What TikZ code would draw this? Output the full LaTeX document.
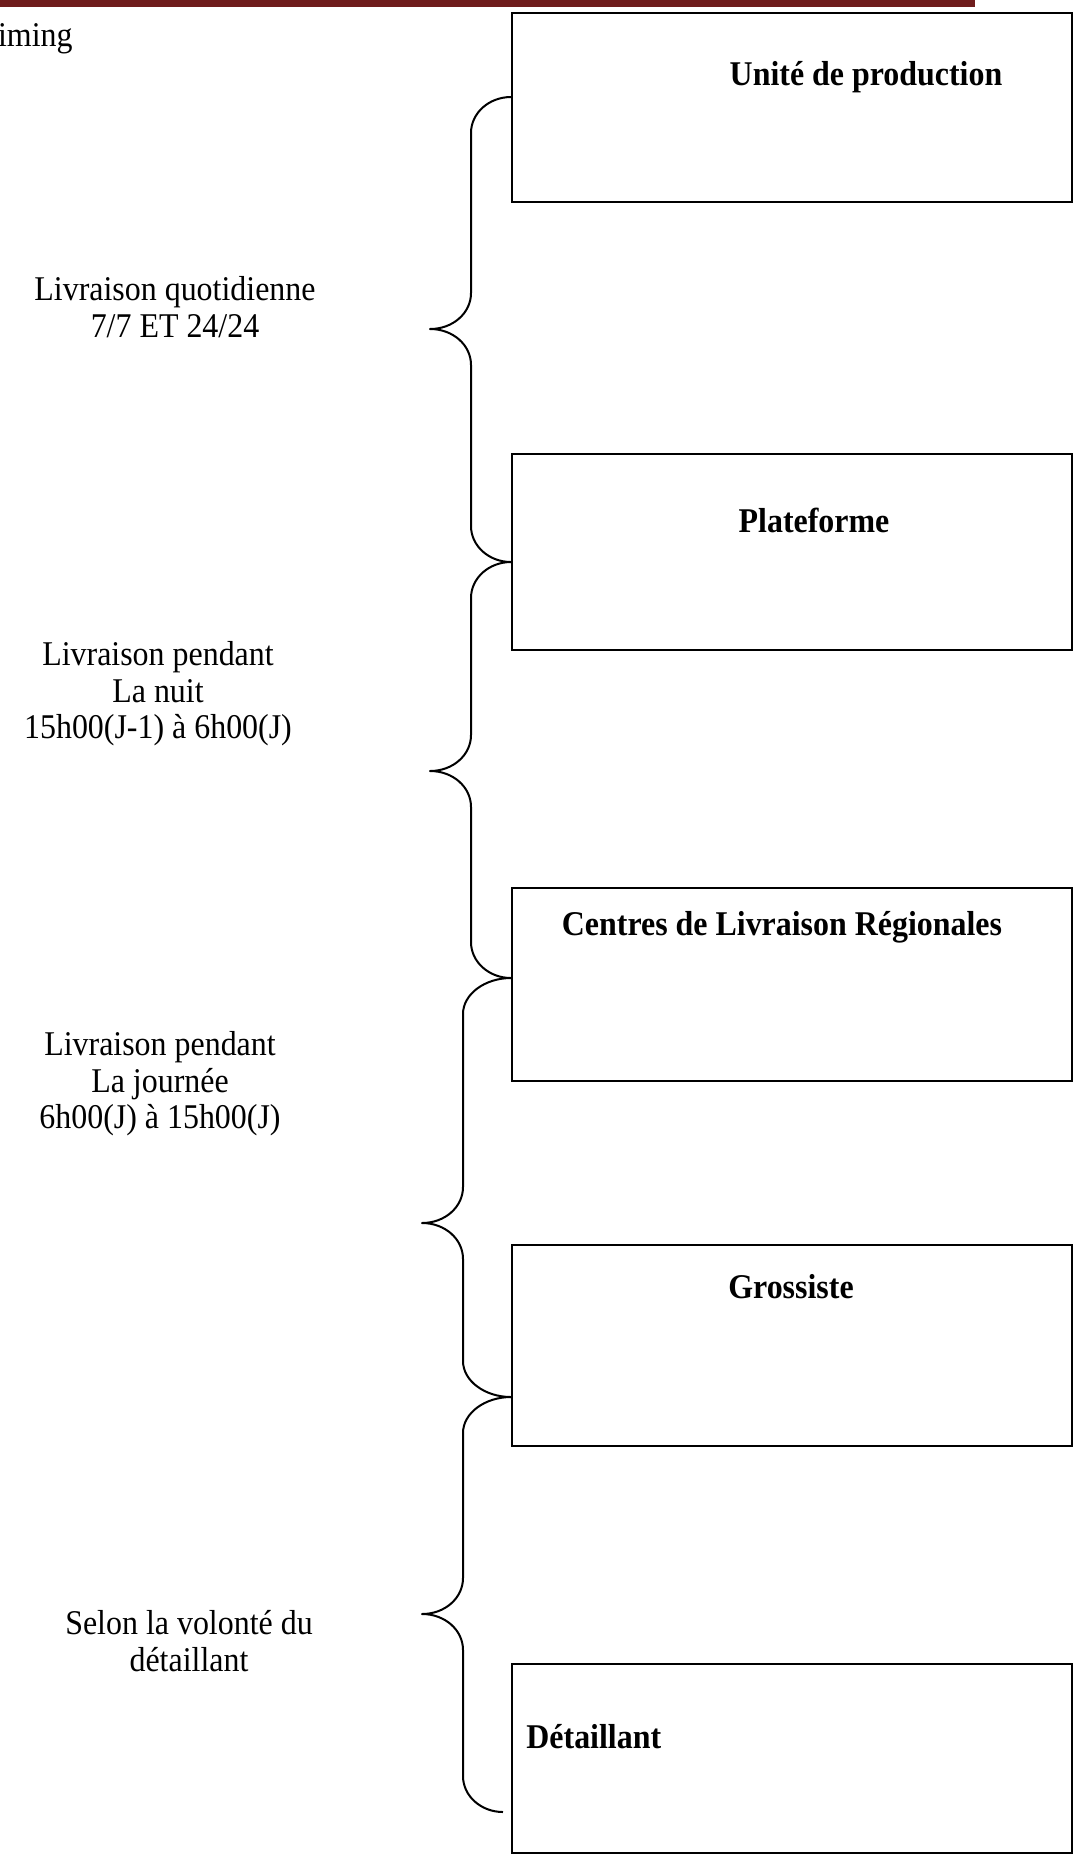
\documentclass[tikz,border=0pt]{standalone}
\usepackage{fontspec}
\setmainfont[FakeStretch=0.92]{Liberation Serif}
\usetikzlibrary{calc}
\definecolor{barred}{RGB}{111,29,29}
% invisible strut fixing the top of the first line of a label
\newcommand\lbltop{\rule{0pt}{13pt}}
\begin{document}
\begin{tikzpicture}[x=0.5pt,y=-0.5pt,
  txt/.style={font=\fontsize{17.35pt}{18.35pt}\selectfont},
  stage/.style={draw, line width=1.2pt, rectangle, inner sep=0pt, anchor=north west,
    minimum width=280pt},
  title/.style={txt, font=\fontsize{17.35pt}{18.35pt}\selectfont\bfseries, inner sep=0pt, anchor=base},
  lbl/.style={txt, align=center, inner sep=0pt, anchor=north},
  curly/.style={line width=1pt, line join=round}]
\useasboundingbox (0,0) rectangle (1074,1865);

% header rule
\fill[barred] (0,0) rectangle (975,7);
\begin{scope}
  \clip (0,0) rectangle (1074,1865);
  \node[txt, inner sep=0pt, anchor=base east] (timing) at (73,46) {Timing};
\end{scope}

% stages of the chain
\node[stage, minimum height=94.5pt] (prod) at (511,12) {};
\node[stage, minimum height=98pt]   (plat) at (511,453) {};
\node[stage, minimum height=96.5pt] (clr)  at (511,887) {};
\node[stage, minimum height=100.5pt] (gros) at (511,1244) {};
\node[stage, minimum height=94.5pt] (det)  at (511,1663) {};

\node[title] (prodT) at (866,85)   {Unité de production};
\node[title] (platT) at (814,532)  {Plateforme};
\node[title] (clrT)  at (782,935)  {Centres de Livraison Régionales};
\node[title] (grosT) at (791,1298) {Grossiste};
\node[title, anchor=base west] (detT) at (526,1748) {Détaillant};

% brace end points and tips
\coordinate (e1) at (prod.west |- 0,97);
\coordinate (e2) at (plat.west |- 0,562);
\coordinate (e3) at (clr.west |- 0,978);
\coordinate (e4) at (gros.west |- 0,1397);
\coordinate (e5) at (503,1812);
\coordinate (t1) at (430,329);
\coordinate (t2) at (430,771);
\coordinate (t3) at (422,1223);
\coordinate (t4) at (422,1614);

% braces between consecutive stages
\draw[curly] (e1) .. controls +(-22,0) and +(0,-20) .. ($(e1)+(-40,36)$)
  -- ($(t1)+(41,-36)$) .. controls +(0,20) and +(23,0) .. (t1)
  .. controls +(23,0) and +(0,-20) .. ($(t1)+(41,36)$)
  -- ($(e2)+(-40,-36)$) .. controls +(0,20) and +(-22,0) .. (e2);
\draw[curly] (e2) .. controls +(-22,0) and +(0,-20) .. ($(e2)+(-40,36)$)
  -- ($(t2)+(41,-36)$) .. controls +(0,20) and +(23,0) .. (t2)
  .. controls +(23,0) and +(0,-20) .. ($(t2)+(41,36)$)
  -- ($(e3)+(-40,-36)$) .. controls +(0,20) and +(-22,0) .. (e3);
\draw[curly] (e3) .. controls +(-26,0) and +(0,-20) .. ($(e3)+(-48,36)$)
  -- ($(t3)+(41,-36)$) .. controls +(0,20) and +(23,0) .. (t3)
  .. controls +(23,0) and +(0,-20) .. ($(t3)+(41,36)$)
  -- ($(e4)+(-48,-36)$) .. controls +(0,20) and +(-26,0) .. (e4);
\draw[curly] (e4) .. controls +(-26,0) and +(0,-20) .. ($(e4)+(-48,36)$)
  -- ($(t4)+(41,-36)$) .. controls +(0,20) and +(23,0) .. (t4)
  .. controls +(23,0) and +(0,-20) .. ($(t4)+(41,36)$)
  -- ($(e5)+(-40,-36)$) .. controls +(0,20) and +(-22,0) .. (e5);

% delivery timing labels
\node[lbl] (l1) at (175,274)  {\lbltop Livraison quotidienne\\7/7 ET 24/24};
\node[lbl] (l2) at (158,639)  {\lbltop Livraison pendant\\La nuit\\15h00(J-1) à 6h00(J)};
\node[lbl] (l3) at (160,1029) {\lbltop Livraison pendant\\La journée\\6h00(J) à 15h00(J)};
\node[lbl] (l4) at (189,1608) {\lbltop Selon la volonté du\\détaillant};
\end{tikzpicture}
\end{document}
